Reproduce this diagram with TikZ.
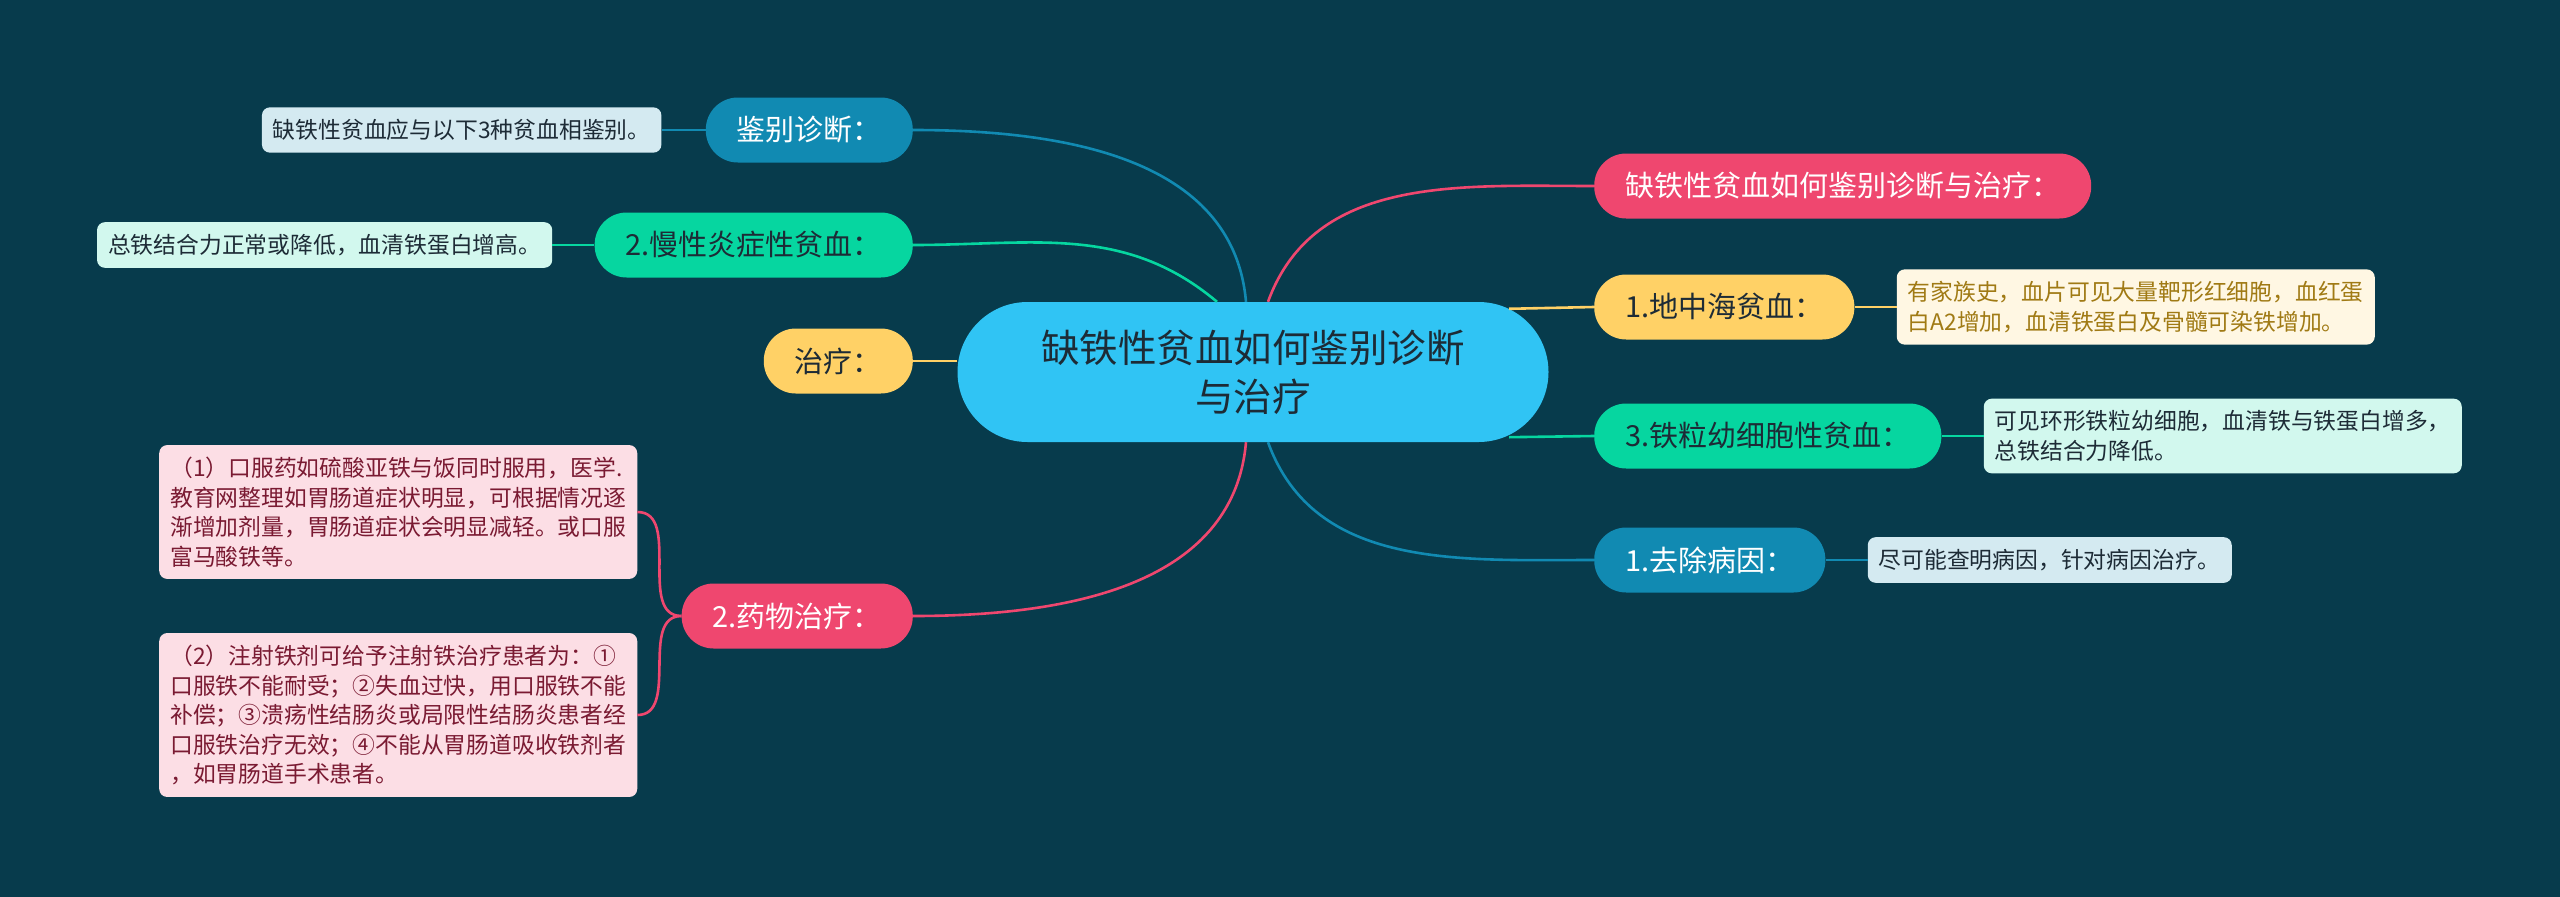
\documentclass[tikz,border=0pt]{standalone}
\usepackage{fontspec}
\setmainfont{Noto Sans CJK SC}
\usetikzlibrary{positioning}

\definecolor{bgteal}{HTML}{073B4C}
\definecolor{hubblue}{HTML}{30C4F4}
\definecolor{mmpink}{HTML}{EF476F}
\definecolor{mmyellow}{HTML}{FFD166}
\definecolor{mmgreen}{HTML}{06D6A0}
\definecolor{mmblue}{HTML}{118AB2}
\definecolor{inkdark}{HTML}{1D2B36}
\definecolor{inkgold}{HTML}{A07A14}
\definecolor{inkwine}{HTML}{7A1A32}

\begin{document}
\begin{tikzpicture}[x=1pt, y=1pt,
    hub/.style={rounded corners=70pt, fill=hubblue, minimum width=591pt, minimum height=140pt, align=center, text=inkdark, font=\fontsize{38.5}{49}\selectfont},
    branch/.style={rounded corners=32pt, fill=#1, minimum height=65pt, inner xsep=31pt, font=\fontsize{29}{34}\selectfont},
    leaf/.style={rounded corners=8pt, fill=#1, inner xsep=11pt, inner ysep=12pt, align=left, font=\fontsize{22.8}{29.5}\selectfont},
    link/.style={draw=#1, line width=2.6pt},
    node distance=44pt]

\useasboundingbox (0,0) rectangle (2560,-897);
\fill[bgteal] (0,0) rectangle (2560,-897);

% centre
\node[hub] (c) at (1253,-372) {缺铁性贫血如何鉴别诊断\\与治疗};

% right side
\node[branch=mmpink, text=white, anchor=west] (title) at (1594,-186) {缺铁性贫血如何鉴别诊断与治疗：};
\node[branch=mmyellow, text=inkdark, anchor=west] (dz) at (1594,-307) {1.地中海贫血：};
\node[branch=mmgreen, text=inkdark, anchor=west] (tl) at (1594,-436) {3.铁粒幼细胞性贫血：};
\node[branch=mmblue, text=white, anchor=west] (qc) at (1594,-560) {1.去除病因：};

\node[leaf=mmyellow!18, text=inkgold, right=42pt of dz] (dzleaf) {有家族史，血片可见大量靶形红细胞，血红蛋\\白A2增加，血清铁蛋白及骨髓可染铁增加。};
\node[leaf=mmgreen!18, text=inkdark, right=42pt of tl] (tlleaf) {可见环形铁粒幼细胞，血清铁与铁蛋白增多，\\总铁结合力降低。};
\node[leaf=mmblue!18, text=inkdark, right=42pt of qc] (qcleaf) {尽可能查明病因，针对病因治疗。};

% left side
\node[branch=mmblue, text=white, anchor=east] (jb) at (913,-130) {鉴别诊断：};
\node[branch=mmgreen, text=inkdark, anchor=east] (mx) at (913,-245) {2.慢性炎症性贫血：};
\node[branch=mmyellow, text=inkdark, anchor=east] (zl) at (913,-361) {治疗：};
\node[branch=mmpink, text=white, anchor=east] (yw) at (913,-616) {2.药物治疗：};

\node[leaf=mmblue!18, text=inkdark, left=of jb] (jbleaf) {缺铁性贫血应与以下3种贫血相鉴别。};
\node[leaf=mmgreen!18, text=inkdark, left=42pt of mx] (mxleaf) {总铁结合力正常或降低，血清铁蛋白增高。};
\node[leaf=mmpink!18, text=inkwine, left=of yw, yshift=104pt] (yw1) {（1）口服药如硫酸亚铁与饭同时服用，医学.\\教育网整理如胃肠道症状明显，可根据情况逐\\渐增加剂量，胃肠道症状会明显减轻。或口服\\富马酸铁等。};
\node[leaf=mmpink!18, text=inkwine, left=of yw, yshift=-99pt] (yw2) {（2）注射铁剂可给予注射铁治疗患者为：①\\口服铁不能耐受；②失血过快，用口服铁不能\\补偿；③溃疡性结肠炎或局限性结肠炎患者经\\口服铁治疗无效；④不能从胃肠道吸收铁剂者\\，如胃肠道手术患者。};

% links from the centre
\draw[link=mmpink] ([xshift=15pt]c.north) to[out=70, in=180] (title.west);
\draw[link=mmyellow] ([xshift=256pt, yshift=-7pt]c.north) -- (dz.west);
\draw[link=mmgreen] ([xshift=256pt, yshift=5pt]c.south) -- (tl.west);
\draw[link=mmblue] ([xshift=15pt]c.south) to[out=-70, in=180] (qc.west);
\draw[link=mmblue] ([xshift=-7pt]c.north) to[out=95, in=0] (jb.east);
\draw[link=mmgreen] ([xshift=-36pt]c.north) to[out=140, in=0] (mx.east);
\draw[link=mmyellow] (c.west |- zl.east) -- (zl.east);
\draw[link=mmpink] ([xshift=-7pt]c.south) to[out=-95, in=0] (yw.east);

% links to the leaves
\draw[link=mmyellow] (dz.east) -- (dzleaf.west);
\draw[link=mmgreen] (tl.east) -- (tlleaf.west);
\draw[link=mmblue] (qc.east) -- (qcleaf.west);
\draw[link=mmblue] (jb.west) -- (jbleaf.east);
\draw[link=mmgreen] (mx.west) -- (mxleaf.east);
\draw[link=mmpink] (yw.west) to[out=180, in=0] (yw1.east);
\draw[link=mmpink] (yw.west) to[out=180, in=0] (yw2.east);
\end{tikzpicture}
\end{document}
